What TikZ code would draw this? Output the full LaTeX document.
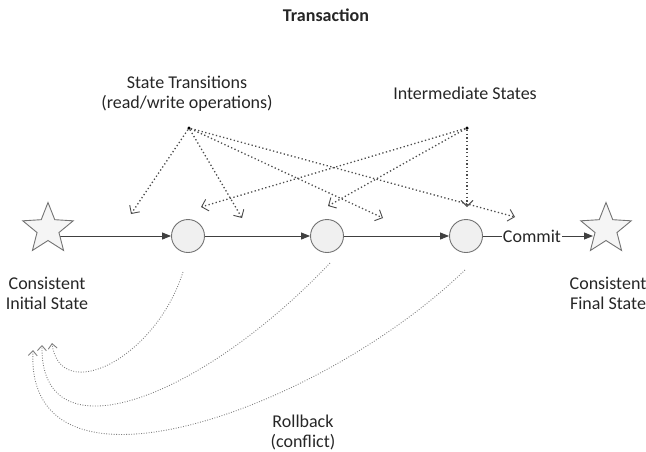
\documentclass[tikz,border=0pt]{standalone}
\usepackage{fontspec}
\setmainfont{Carlito}
\usetikzlibrary{shapes.geometric,arrows.meta,backgrounds}

\begin{document}
\begin{tikzpicture}[x=1pt,y=-1pt,font=\fontsize{18}{20}\selectfont,
  every node/.style={text=black!85},
  statestar/.style={star,star points=5,star point ratio=2.3,minimum size=53pt,inner sep=0pt,draw=black!55,fill=black!4,line width=0.9pt},
  state/.style={circle,minimum size=33pt,inner sep=0pt,draw=black!55,fill=black!6,line width=0.9pt},
  dotmark/.style={circle,fill=black,minimum size=3.5pt,inner sep=0pt},
  flow/.style={draw=black!75,line width=1pt,-{Triangle[length=9pt,width=7pt]}},
  link/.style={draw=black!70,line width=1.3pt,dash pattern=on 1.3pt off 2.4pt,-{Straight Barb[length=6pt,width=12pt,line width=0.9pt]}},
  back/.style={draw=black!50,line width=0.9pt,dash pattern=on 0.9pt off 1.6pt,-{Straight Barb[length=5pt,width=9pt,line width=0.9pt]}}]
\useasboundingbox (0,0) rectangle (646,451);
\node[font=\fontsize{18}{20}\selectfont\bfseries] (title) at (326,15) {Transaction};

\node[statestar] (s1) at (48,229) {};
\node[state] (c1) at (188,236) {};
\node[state] (c2) at (327,236) {};
\node[state] (c3) at (466,236) {};
\node[inner sep=1pt] (commit) at (532,236) {Commit};
\node[statestar] (s2) at (606,229) {};

\node[align=center] (init) at (47,293) {Consistent\\Initial State};
\node[align=center] (final) at (608,293) {Consistent\\Final State};
\node[align=center] (trans) at (187,94) {State Transitions\\(read/write operations)};
\node (inter) at (465,93) {Intermediate States};
\node[align=center] (roll) at (303,432) {Rollback\\(conflict)};

\node[dotmark] (p1) at (189,128) {};
\node[dotmark] (p2) at (467,128) {};

\coordinate (a1) at (131,214);
\coordinate (a2) at (242,218);
\coordinate (a3) at (383,218);
\coordinate (a4) at (515,217);
\coordinate (b1) at (201,207);
\coordinate (b2) at (328,206);
\coordinate (b3) at (467,207);
\coordinate (q1) at (183,272);
\coordinate (q2) at (330,263);
\coordinate (q3) at (465,270);
\coordinate (r1) at (52,343);
\coordinate (r2) at (42,345);
\coordinate (r3) at (33,350);

\begin{scope}[on background layer]
\draw[flow] (s1.center |- c1) -- (c1);
\end{scope}
\draw[flow] (c1) -- (c2);
\draw[flow] (c2) -- (c3);
\draw[draw=black!75,line width=1pt] (c3) -- (commit);
\draw[flow,shorten >=13pt] (commit) -- (s2.center |- commit);

\draw[link] (p1) -- (a1);
\draw[link] (p1) -- (a2);
\draw[link] (p1) -- (a3);
\draw[link] (p1) -- (a4);
\draw[link] (p2) -- (b1);
\draw[link] (p2) -- (b2);
\draw[link] (p2) -- (b3);

\draw[back] (q1) .. controls (155,360) and (60,405) .. (r1);
\draw[back] (q2) .. controls (200,400) and (40,460) .. (r2);
\draw[back] (q3) .. controls (320,410) and (25,515) .. (r3);
\end{tikzpicture}
\end{document}
